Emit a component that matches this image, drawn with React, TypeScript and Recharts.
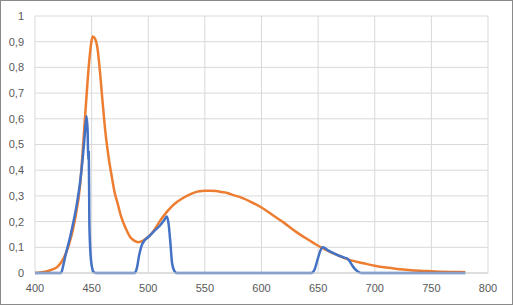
import React from "react";
import { LineChart, Line, XAxis, YAxis, CartesianGrid } from "recharts";

const orangeWl = [400, 405, 410, 415, 420, 425, 430, 435, 440, 443, 446, 448, 450, 451, 453, 455, 457, 460, 462, 465, 468, 470, 473, 476, 480, 484, 488, 491, 495, 500, 505, 510, 515, 520, 525, 530, 535, 540, 545, 550, 555, 560, 565, 570, 575, 580, 590, 600, 610, 620, 630, 640, 650, 660, 670, 680, 690, 700, 710, 720, 730, 740, 750, 760, 770, 780];
const orangeVal = [0, 0.002, 0.006, 0.013, 0.025, 0.055, 0.11, 0.2, 0.35, 0.53, 0.72, 0.83, 0.905, 0.92, 0.912, 0.88, 0.8, 0.65, 0.555, 0.45, 0.37, 0.32, 0.27, 0.22, 0.175, 0.14, 0.125, 0.12, 0.125, 0.14, 0.165, 0.2, 0.23, 0.255, 0.275, 0.29, 0.302, 0.312, 0.318, 0.32, 0.32, 0.319, 0.315, 0.311, 0.303, 0.297, 0.278, 0.255, 0.225, 0.195, 0.162, 0.133, 0.106, 0.083, 0.064, 0.048, 0.038, 0.028, 0.021, 0.016, 0.012, 0.009, 0.007, 0.005, 0.004, 0.003];

const blueWl = [400, 423, 425, 427, 431, 434, 437, 440, 442, 444, 445.5, 446.5, 447, 447.5, 448, 448.5, 450, 452, 454, 488, 490, 492, 494, 497, 500, 505, 510, 514, 516.5, 518, 519.5, 521, 523, 525, 644, 647, 650, 653, 654.5, 658, 663, 668, 673, 676, 678, 680, 682, 685, 688, 780];
const blueVal = [0, 0, 0.03, 0.07, 0.14, 0.2, 0.27, 0.36, 0.44, 0.54, 0.61, 0.55, 0.44, 0.47, 0.2, 0.12, 0.03, 0.003, 0, 0, 0.02, 0.07, 0.105, 0.128, 0.14, 0.162, 0.183, 0.205, 0.22, 0.19, 0.12, 0.04, 0.008, 0, 0, 0.015, 0.06, 0.096, 0.1, 0.09, 0.078, 0.068, 0.06, 0.055, 0.045, 0.03, 0.018, 0.006, 0, 0];

const xTicks = [400, 450, 500, 550, 600, 650, 700, 750, 800];
const yTicks = [0, 0.1, 0.2, 0.3, 0.4, 0.5, 0.6, 0.7, 0.8, 0.9, 1];

const orangeData = orangeWl.map((x, i) => ({ x, y: orangeVal[i] }));
const blueData = blueWl.map((x, i) => ({ x, y: blueVal[i] }));

const tickStyle = { fill: "#595959", fontSize: 11, fontFamily: "Liberation Sans, Arial, sans-serif" };

export default function App() {
  return (
    <div style={{ position: "absolute", left: 0, top: 0, width: 513, height: 305, background: "#fff" }}>
      <LineChart width={513} height={305} margin={{ top: 16, right: 25, bottom: 0, left: 0 }}>
        <CartesianGrid stroke="#d9d9d9" strokeWidth={1} />
        <XAxis
          type="number"
          dataKey="x"
          domain={[400, 800]}
          ticks={xTicks}
          allowDuplicatedCategory={false}
          height={32}
          tickSize={0}
          tickMargin={11}
          axisLine={{ stroke: "#d0d0d0" }}
          tickLine={false}
          tick={tickStyle}
          interval={0}
        />
        <YAxis
          type="number"
          domain={[0, 1]}
          ticks={yTicks}
          width={35}
          tickSize={0}
          tickMargin={11}
          axisLine={false}
          tickLine={false}
          tick={tickStyle}
          interval={0}
          tickFormatter={(v: number) => String(v).replace(".", ",")}
        />
        <Line data={orangeData} dataKey="y" type="monotone" stroke="#ED7D31" strokeWidth={2.5} dot={false} isAnimationActive={false} />
        <Line data={blueData} dataKey="y" type="monotone" stroke="#4472C4" strokeWidth={2.5} dot={false} isAnimationActive={false} />
      </LineChart>
      <div style={{ position: "absolute", left: 0, top: 0, width: 513, height: 305, boxSizing: "border-box", border: "1px solid #8a8a8a", pointerEvents: "none" }} />
    </div>
  );
}
